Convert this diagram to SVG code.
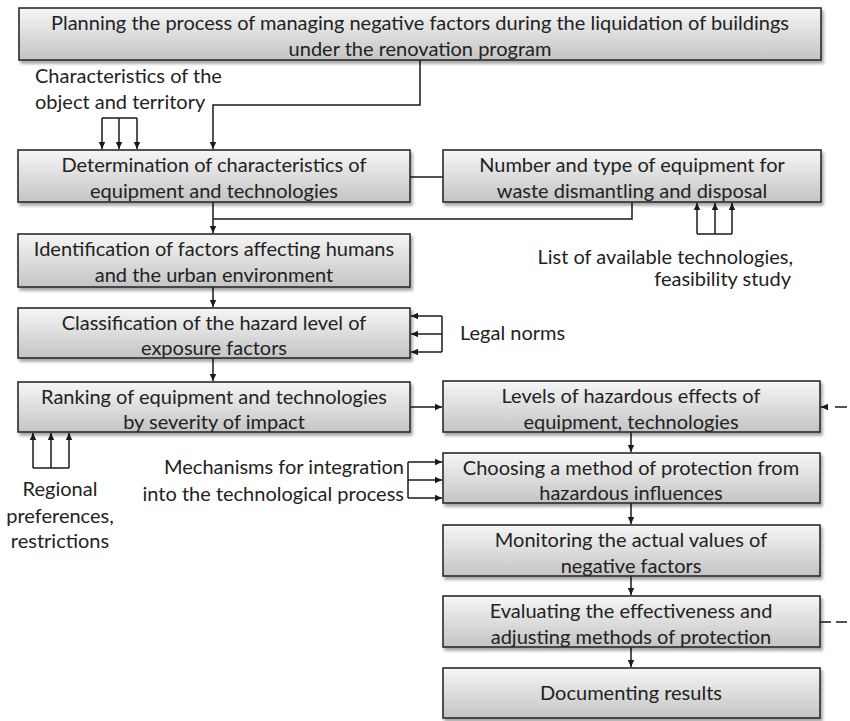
<svg xmlns="http://www.w3.org/2000/svg" width="850" height="721" viewBox="0 0 850 721">
<defs>
  <linearGradient id="g" x1="0" y1="0" x2="0" y2="1">
    <stop offset="0" stop-color="#f6f6f6"/>
    <stop offset="1" stop-color="#c4c4c4"/>
  </linearGradient>
  <filter id="sh" x="-5%" y="-20%" width="110%" height="150%">
    <feDropShadow dx="2" dy="3" stdDeviation="1.5" flood-color="#000" flood-opacity="0.35"/>
  </filter>
  <marker id="ah" markerUnits="userSpaceOnUse" markerWidth="8" markerHeight="8" refX="7" refY="4" orient="auto">
    <path d="M0,0.8 L7,4 L0,7.2 Z" fill="#1a1a1a"/>
  </marker>
  <style>
    .box rect{fill:url(#g);stroke:#2a2a2a;stroke-width:1.6;filter:url(#sh)}
    text{font-family:Lato,"Liberation Sans",sans-serif;font-size:20px;fill:#222}
    .c{text-anchor:middle}
    .e{text-anchor:end}
    .ln{fill:none;stroke:#1a1a1a;stroke-width:1.5}
    .ar{marker-end:url(#ah)}
    .dash{stroke-dasharray:12 7}
  </style>
</defs>

<g id="connectors">
  <path class="ln ar" d="M420 60 V105 H213 V149"/>
  <path class="ln" d="M410 177 H443"/>
  <path class="ln ar" d="M213 202 V233"/>
  <path class="ln" d="M632 202 V219 H213"/>
  <path class="ln ar" d="M213 287 V307"/>
  <path class="ln ar" d="M213 358 V381"/>
  <path class="ln ar" d="M410 407 H442"/>
  <path class="ln ar" d="M631 432 V452"/>
  <path class="ln ar" d="M631 503 V524"/>
  <path class="ln ar" d="M631 576 V595"/>
  <path class="ln ar" d="M631 647 V667"/>
  <!-- characteristics -->
  <path class="ln" d="M102 118 H137"/>
  <path class="ln ar" d="M102 118 V149"/>
  <path class="ln ar" d="M119 118 V149"/>
  <path class="ln ar" d="M137 118 V149"/>
  <!-- list of technologies -->
  <path class="ln" d="M697 234 H732"/>
  <path class="ln ar" d="M697 234 V203"/>
  <path class="ln ar" d="M715 234 V203"/>
  <path class="ln ar" d="M732 234 V203"/>
  <!-- legal norms -->
  <path class="ln" d="M442 316 V352"/>
  <path class="ln ar" d="M442 316 H411"/>
  <path class="ln ar" d="M442 334 H411"/>
  <path class="ln ar" d="M442 352 H411"/>
  <!-- mechanisms -->
  <path class="ln" d="M408 462 V498"/>
  <path class="ln ar" d="M408 462 H442"/>
  <path class="ln ar" d="M408 480 H442"/>
  <path class="ln ar" d="M408 498 H442"/>
  <!-- regional -->
  <path class="ln" d="M33 468 H69"/>
  <path class="ln ar" d="M33 468 V433"/>
  <path class="ln ar" d="M51 468 V433"/>
  <path class="ln ar" d="M69 468 V433"/>
  <!-- dashed feedback -->
  <path class="ln ar dash" d="M847 407 H821"/>
  <path class="ln" d="M820 622 H850" style="stroke-dasharray:11 5"/>
</g>

<g id="n1" class="box"><rect x="19" y="8" width="802" height="52"/>
  <text class="c" x="420" y="30">Planning the process of managing negative factors during the liquidation of buildings</text>
  <text class="c" x="420" y="56">under the renovation program</text></g>
<g id="n2" class="box"><rect x="18" y="150" width="392" height="52"/>
  <text class="c" x="214" y="172">Determination of characteristics of</text>
  <text class="c" x="214" y="198">equipment and technologies</text></g>
<g id="n3" class="box"><rect x="443" y="150" width="378" height="52"/>
  <text class="c" x="632" y="172">Number and type of equipment for</text>
  <text class="c" x="632" y="198">waste dismantling and disposal</text></g>
<g id="n4" class="box"><rect x="18" y="234" width="392" height="53"/>
  <text class="c" x="214" y="256">Identification of factors affecting humans</text>
  <text class="c" x="214" y="282">and the urban environment</text></g>
<g id="n5" class="box"><rect x="18" y="308" width="392" height="50"/>
  <text class="c" x="214" y="330">Classification of the hazard level of</text>
  <text class="c" x="214" y="355">exposure factors</text></g>
<g id="n6" class="box"><rect x="18" y="382" width="392" height="50"/>
  <text class="c" x="214" y="404">Ranking of equipment and technologies</text>
  <text class="c" x="214" y="429">by severity of impact</text></g>
<g id="n7" class="box"><rect x="443" y="381" width="377" height="51"/>
  <text class="c" x="631" y="403">Levels of hazardous effects of</text>
  <text class="c" x="631" y="429">equipment, technologies</text></g>
<g id="n8" class="box"><rect x="443" y="453" width="377" height="50"/>
  <text class="c" x="631" y="475">Choosing a method of protection from</text>
  <text class="c" x="631" y="500">hazardous influences</text></g>
<g id="n9" class="box"><rect x="443" y="525" width="377" height="51"/>
  <text class="c" x="631" y="547">Monitoring the actual values of</text>
  <text class="c" x="631" y="573">negative factors</text></g>
<g id="n10" class="box"><rect x="443" y="596" width="377" height="51"/>
  <text class="c" x="631" y="618">Evaluating the effectiveness and</text>
  <text class="c" x="631" y="644">adjusting methods of protection</text></g>
<g id="n11" class="box"><rect x="443" y="668" width="377" height="50"/>
  <text class="c" x="631" y="700">Documenting results</text></g>

<g id="labels">
  <text x="35" y="83">Characteristics of the</text>
  <text x="35" y="109">object and territory</text>
  <text class="e" x="793" y="264">List of available technologies,</text>
  <text class="e" x="791" y="286">feasibility study</text>
  <text x="460" y="340">Legal norms</text>
  <text class="e" x="404" y="474">Mechanisms for integration</text>
  <text class="e" x="404" y="501">into the technological process</text>
  <text class="c" x="60" y="496">Regional</text>
  <text class="c" x="60" y="523">preferences,</text>
  <text class="c" x="60" y="548">restrictions</text>
</g>
</svg>
